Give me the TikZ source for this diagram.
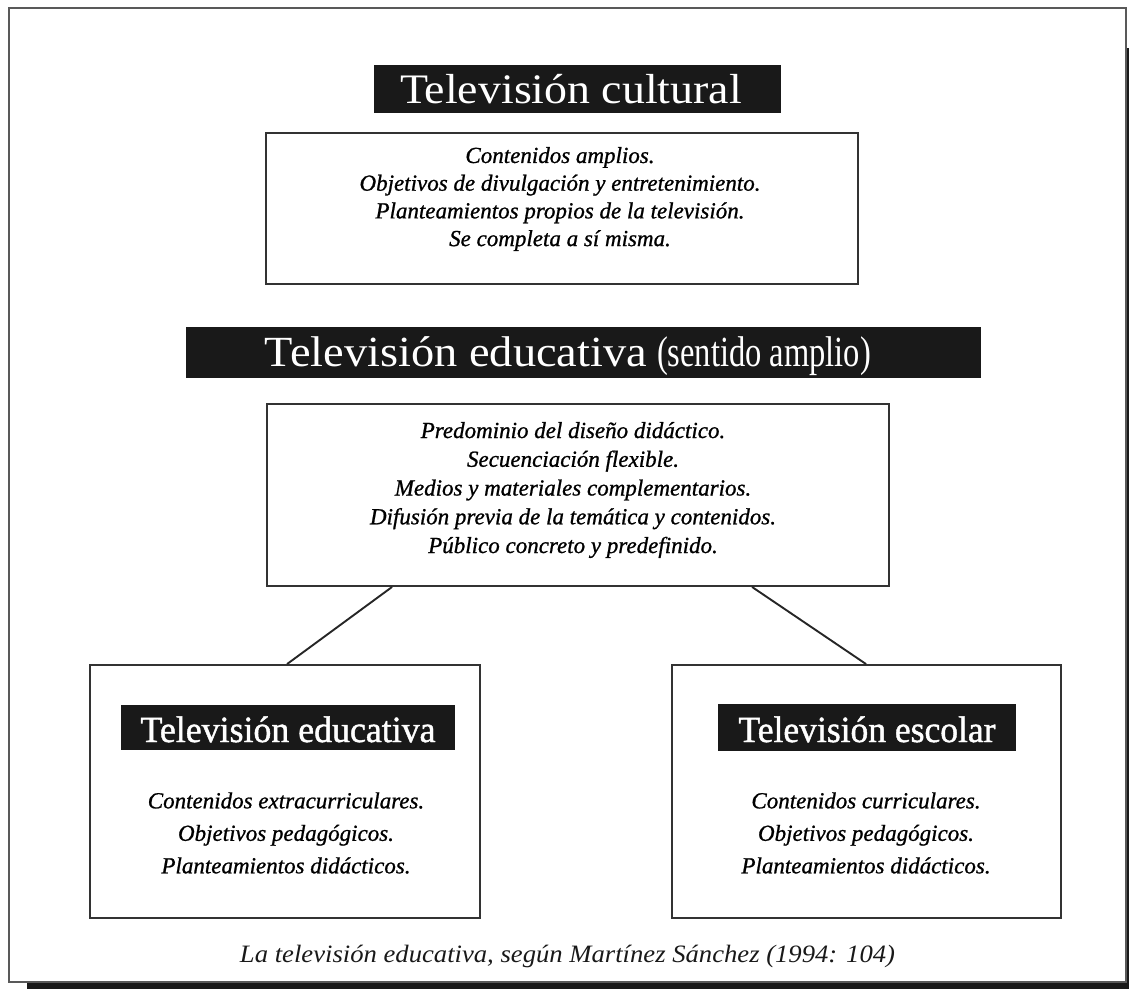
\documentclass[tikz,border=0pt]{standalone}
\usepackage{fontspec}
\setmainfont{Liberation Serif}
\newfontfamily\heavyserif{Liberation Serif}[FakeBold=0.9]
\newfontfamily\labelserif{Liberation Serif}[FakeBold=1.2]
\usepackage{graphicx}
\tikzset{
  outerframe/.style={draw=black!65, line width=2pt},
  shadowbar/.style={fill=black!90, draw=none},
  titlebar/.style={fill=black!90, text=white, inner sep=0pt, anchor=center},
  panel/.style={draw=black!80, line width=1.9pt, fill=white, inner sep=0pt},
  body/.style={text=black, align=center, inner sep=0pt, anchor=center},
  link/.style={draw=black!85, line width=1.9pt},
}
\begin{document}
\begin{tikzpicture}[x=1pt,y=-1pt]
\useasboundingbox (0,0) rectangle (1129,989);
% outer frame and its shadow
\draw[outerframe] (9,8) rectangle (1126,982);
\fill[shadowbar] (27,983) rectangle (1129,989);
\fill[shadowbar] (1127,48) rectangle (1129,989);

% Television cultural
\node[titlebar, minimum width=407pt, text height=38pt, text depth=10pt] (t1) at (577.5,89)
  {\fontsize{42}{42}\selectfont\resizebox{342pt}{\height}{Televisión cultural}\hspace*{13pt}};
\node[panel, minimum width=592pt, minimum height=151pt] (b1) at (562,208.5) {};
\node[body, font=\fontsize{23}{27.7}\selectfont\heavyserif\itshape] (b1t) at (560,199)
  {Contenidos amplios.\\
   Objetivos de divulgación y entretenimiento.\\
   Planteamientos propios de la televisión.\\
   Se completa a sí misma.};

% Television educativa (sentido amplio)
\node[titlebar, minimum width=795pt, text height=39pt, text depth=12pt] (t2) at (583.5,352.5)
  {\fontsize{43}{43}\selectfont\resizebox{382pt}{\height}{Televisión educativa}\hspace{10pt}\resizebox{214pt}{\height}{(sentido amplio)}\hspace*{31pt}};
\node[panel, minimum width=622pt, minimum height=182pt] (b2) at (578,495) {};
\node[body, font=\fontsize{23}{28.75}\selectfont\heavyserif\itshape] (b2t) at (573,490)
  {Predominio del diseño didáctico.\\
   Secuenciación flexible.\\
   Medios y materiales complementarios.\\
   Difusión previa de la temática y contenidos.\\
   Público concreto y predefinido.};

% lower boxes
\node[panel, minimum width=390pt, minimum height=253pt] (bl) at (285,791.5) {};
\node[panel, minimum width=389pt, minimum height=253pt] (br) at (866.5,791.5) {};

\node[titlebar, minimum width=334pt, text height=37pt, text depth=8pt] (tl) at (288,727.5)
  {\fontsize{37}{37}\selectfont\labelserif\resizebox{295pt}{\height}{Televisión educativa}};
\node[titlebar, minimum width=298pt, text height=38pt, text depth=9pt] (tr) at (867,727.5)
  {\fontsize{37}{37}\selectfont\labelserif\resizebox{257pt}{\height}{Televisión escolar}};

\node[body, font=\fontsize{23}{32.5}\selectfont\heavyserif\itshape] (blt) at (286,833)
  {Contenidos extracurriculares.\\
   Objetivos pedagógicos.\\
   Planteamientos didácticos.};
\node[body, font=\fontsize{23}{32.5}\selectfont\heavyserif\itshape] (brt) at (866,833)
  {Contenidos curriculares.\\
   Objetivos pedagógicos.\\
   Planteamientos didácticos.};

% connectors
\draw[link] ([xshift=126pt]b2.south west) -- ([xshift=198pt]bl.north west);
\draw[link] ([xshift=486pt]b2.south west) -- ([xshift=195pt]br.north west);

% caption
\node[text=black!90, inner sep=0pt, anchor=base, font=\fontsize{25}{25}\selectfont\itshape] (cap) at (567.5,962)
  {\resizebox{655pt}{\height}{La televisión educativa, según Martínez Sánchez (1994: 104)}};
\end{tikzpicture}
\end{document}
